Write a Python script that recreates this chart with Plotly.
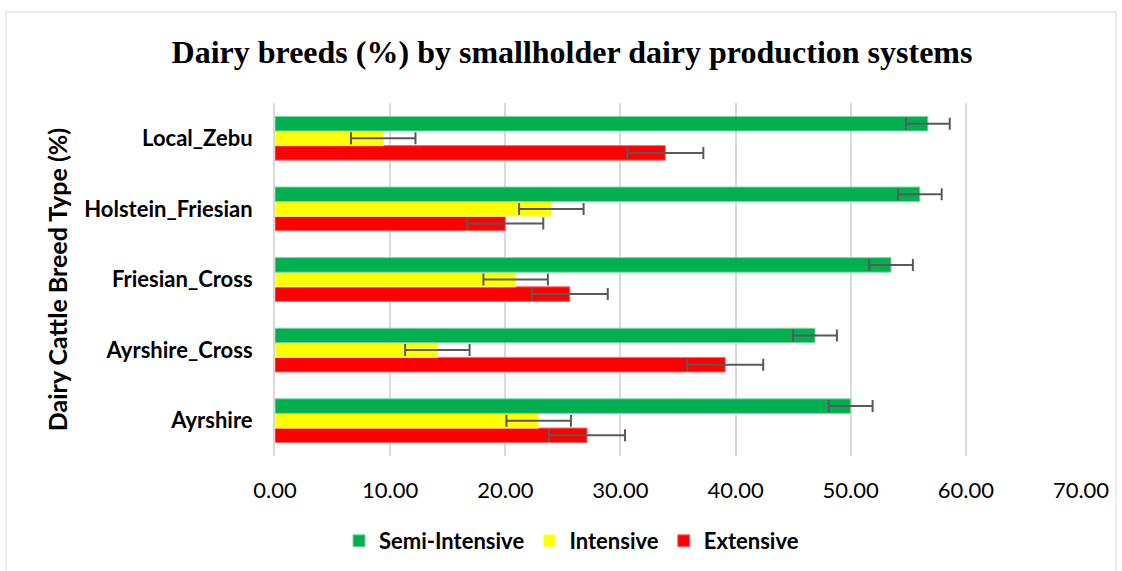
import plotly.graph_objects as go

categories = ["Ayrshire", "Ayrshire_Cross", "Friesian_Cross", "Holstein_Friesian", "Local_Zebu"]
semi_intensive = [50.0, 46.9, 53.5, 56.0, 56.7]
intensive = [22.9, 14.1, 20.9, 24.0, 9.4]
extensive = [27.1, 39.1, 25.6, 20.0, 33.9]
err_semi = 1.9
err_int = 2.8
err_ext = 3.3
x_ticks = [0, 10, 20, 30, 40, 50, 60, 70]

L, R, T, B = 275, 41, 103, 115
W, H = 1122, 571
pw, ph = W - L - R, H - T - B

def px_x(p):
    return (p - L) / pw

def px_y(p):
    return (H - B - p) / ph

fig = go.Figure()
series = [
    ("Extensive", extensive, err_ext, "#FF0000", "#FF6B6B", 3),
    ("Intensive", intensive, err_int, "#FFFF00", "#FFFF80", 2),
    ("Semi-Intensive", semi_intensive, err_semi, "#00B050", "#7FD8A7", 1),
]
for name, vals, e, col, lcol, rank in series:
    fig.add_trace(go.Bar(
        y=categories, x=vals, name=name, orientation="h",
        marker=dict(color=col, line=dict(color=lcol, width=1)),
        error_x=dict(type="constant", value=e, color="#595959", thickness=2, width=6),
        legendrank=rank,
    ))

fig.update_layout(
    width=W, height=H,
    margin=dict(l=L, r=R, t=T, b=B, autoexpand=False),
    paper_bgcolor="white", plot_bgcolor="white",
    barmode="group", bargap=0.38, bargroupgap=0,
    title=dict(text="<b>Dairy breeds (%) by smallholder dairy production systems</b>",
               x=572 / W, xanchor="center", xref="container",
               y=1 - 52 / H, yanchor="middle", yref="container",
               font=dict(family="Liberation Serif", size=32, color="black")),
    xaxis=dict(range=[0, 70], tickvals=x_ticks, tickformat=".2f",
               showgrid=True, gridcolor="#D9D9D9", gridwidth=2,
               zeroline=False, showline=False, ticks="",
               ticklabelstandoff=19,
               tickfont=dict(family="Lato", size=22, color="black")),
    yaxis=dict(showgrid=False, showline=True, linecolor="#D9D9D9", linewidth=2,
               ticks="", ticklabelstandoff=16,
               tickfont=dict(family="Lato", size=22, color="black", weight="bold"),
               title=dict(text="<b>Dairy Cattle Breed Type (%)</b>", standoff=9,
                          font=dict(family="Lato", size=25, color="black"))),
    legend=dict(orientation="h", x=px_x(339), xanchor="left", y=px_y(541), yanchor="middle",
                font=dict(family="Lato", size=22, color="black", weight="bold"),
                itemwidth=30, tracegroupgap=0),
    showlegend=True,
    shapes=[dict(type="rect", xref="paper", yref="paper",
                 x0=px_x(6), x1=px_x(1116), y0=px_y(580), y1=px_y(12),
                 line=dict(color="#D9D9D9", width=1), fillcolor="rgba(0,0,0,0)", layer="below")],
)

fig.write_html("out.html", post_script="document.body.style.margin='0';",
               config={"displayModeBar": False})
